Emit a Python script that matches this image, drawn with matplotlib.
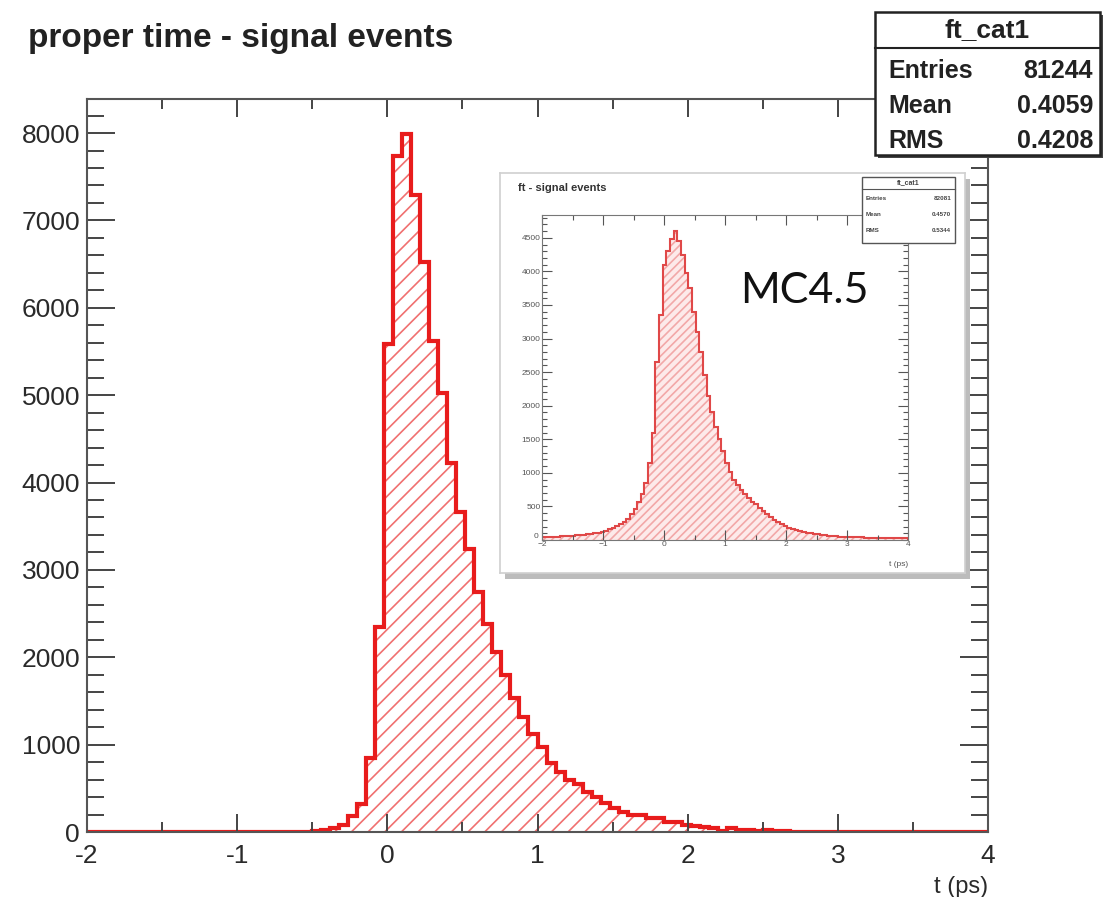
import numpy as np
import matplotlib
matplotlib.use("Agg")
import matplotlib.pyplot as plt
from matplotlib.patches import Rectangle
from matplotlib.ticker import MultipleLocator

plt.rcParams['font.family'] = ['Liberation Sans', 'DejaVu Sans']
plt.rcParams['hatch.linewidth'] = 1.2

# main histogram: proper time, 100 bins from -2 to 4 ps
t_lo, t_hi, n_bins = -2.0, 4.0, 100
counts = [0] * 24 + [
    5, 12, 25, 45, 85, 180, 320, 846, 2346, 5590,
    7740, 7990, 7290, 6530, 5620, 5020, 4220, 3660, 3240, 2746,
    2386, 2060, 1800, 1530, 1318, 1120, 975, 795, 689, 594,
    550, 455, 400, 331, 280, 225, 194, 190, 160, 155,
    118, 110, 75, 70, 60, 50, 10, 45, 25, 20,
    15, 20, 10, 12, 5, 3] + [0] * 20

# inset histogram (MC4.5)
counts_mc = [40, 45, 45, 50, 50, 55, 60, 60, 65, 70,
             75, 80, 85, 90, 100, 110, 125,
             140, 160, 180, 205, 235, 270, 320, 380, 460, 560, 680, 850, 1150,
             1600, 2650, 3350, 4100, 4300, 4480, 4600, 4450, 4250, 3980,
             3760, 3400, 3100, 2800, 2450, 2150, 1900, 1680, 1500, 1320,
             1150, 1020, 900, 820, 740, 690, 630, 570, 530, 480,
             430, 380, 340, 300, 275, 240, 210, 185, 165, 150,
             135, 120, 110, 100, 90, 85, 75, 70, 65, 60,
             55, 52, 50, 48, 45, 42, 40, 38, 36, 35,
             34, 33, 32, 31, 30, 30, 29, 28, 28, 27]

stats_main = [("Entries", "81244"), ("Mean", "0.4059"), ("RMS", "0.4208")]
stats_mc = [("Entries", "82081"), ("Mean", "0.4570"), ("RMS", "0.5344")]

edges = np.linspace(t_lo, t_hi, n_bins + 1)

W, H = 1104, 897
def fx(x):
    return x / W
def fy(y):
    return 1 - y / H

fig = plt.figure(figsize=(W / 100, H / 100), dpi=100)

# ---- main plot ----
ax = fig.add_axes([fx(87), fy(832), (988 - 87) / W, (832 - 99) / H])
ax.stairs(counts, edges, fill=True, facecolor='none', edgecolor='#f07070',
          hatch='//', linewidth=0)
ax.stairs(counts, edges, color='#e81c1c', linewidth=3.0)
ax.set_xlim(t_lo, t_hi)
ax.set_ylim(0, 8390)
ax.xaxis.set_major_locator(MultipleLocator(1))
ax.xaxis.set_minor_locator(MultipleLocator(0.5))
ax.yaxis.set_major_locator(MultipleLocator(1000))
ax.yaxis.set_minor_locator(MultipleLocator(200))
ax.tick_params(which='both', direction='in', top=True, right=True,
               color='#444444', width=1.4, labelsize=19, labelcolor='#2a2a2a')
ax.tick_params(axis='x', which='major', length=13)
ax.tick_params(axis='x', which='minor', length=7)
ax.tick_params(axis='y', which='major', length=20, pad=5)
ax.tick_params(axis='y', which='minor', length=12)
ax.tick_params(axis='x', labelbottom=False)
for s in ax.spines.values():
    s.set_color('#555555')
    s.set_linewidth(1.5)
for v in range(-2, 5):
    ax.text(v, -0.017, str(v), transform=ax.get_xaxis_transform(),
            ha='center', va='top', fontsize=19, color='#2a2a2a')
ax.text(1.0, -0.06, "t (ps)", transform=ax.transAxes, ha='right', va='top',
        fontsize=17, color='#2a2a2a')

fig.text(fx(28), fy(38), "proper time - signal events", fontsize=24,
         fontweight='bold', color='#222222', va='center', ha='left')

# main stats box
bx0, bx1, by0, by1, bsep = 875, 1100, 12, 155, 48
fig.patches.append(Rectangle((fx(bx0 + 3), fy(by1 + 3)), (bx1 - bx0) / W, (by1 - by0) / H,
                             transform=fig.transFigure, facecolor='#444444',
                             edgecolor='none', zorder=10))
fig.patches.append(Rectangle((fx(bx0), fy(by1)), (bx1 - bx0) / W, (by1 - by0) / H,
                             transform=fig.transFigure, facecolor='white',
                             edgecolor='#222222', linewidth=1.8, zorder=11))
fig.lines.append(plt.Line2D([fx(bx0), fx(bx1)], [fy(bsep), fy(bsep)],
                            transform=fig.transFigure, color='#222222',
                            linewidth=1.5, zorder=12))
fig.text(fx((bx0 + bx1) / 2), fy(30), "ft_cat1", fontsize=19, fontweight='bold',
         ha='center', va='center', color='#222222', zorder=13)
for i, (lab, val) in enumerate(stats_main):
    yy = fy(71 + i * 35)
    fig.text(fx(888), yy, lab, fontsize=18, fontweight='bold', ha='left',
             va='center', color='#222222', zorder=13)
    fig.text(fx(1093), yy, val, fontsize=18, fontweight='bold', ha='right',
             va='center', color='#222222', zorder=13)

# ---- inset panel (pasted canvas) ----
px0, px1, py0, py1 = 500, 965, 173, 573
shadow = fig.add_axes([fx(px0 + 5), fy(py1 + 6), (px1 - px0) / W, (py1 - py0) / H])
shadow.set_axis_off()
shadow.add_patch(Rectangle((0, 0), 1, 1, transform=shadow.transAxes,
                           facecolor='#bcbcbc', edgecolor='none'))
shadow.set_zorder(3)
panel = fig.add_axes([fx(px0), fy(py1), (px1 - px0) / W, (py1 - py0) / H])
panel.set_xticks([])
panel.set_yticks([])
for s in panel.spines.values():
    s.set_color('#d0d0d0')
    s.set_linewidth(1.2)
panel.set_zorder(4)

ax2 = fig.add_axes([fx(542), fy(540), (908 - 542) / W, (540 - 215) / H])
ax2.set_zorder(5)
ax2.stairs(counts_mc, edges, fill=True, facecolor='#fdeaea', edgecolor='#f2a8a8',
           hatch='////', linewidth=0)
ax2.stairs(counts_mc, edges, color='#e04848', linewidth=1.5)
ax2.set_xlim(t_lo, t_hi)
ax2.set_ylim(0, 4840)
ax2.xaxis.set_major_locator(MultipleLocator(1))
ax2.xaxis.set_minor_locator(MultipleLocator(0.5))
ax2.yaxis.set_major_locator(MultipleLocator(500))
ax2.yaxis.set_minor_locator(MultipleLocator(100))
ax2.tick_params(which='both', direction='in', top=True, right=True,
                color='#555555', width=0.8, labelsize=6, labelcolor='#555555')
ax2.tick_params(which='major', length=7, pad=1)
ax2.tick_params(which='minor', length=3.5)
ax2.set_yticks(range(500, 5000, 500))
for s in ax2.spines.values():
    s.set_color('#777777')
    s.set_linewidth(0.8)
ax2.text(-0.01, 0.0, "0", transform=ax2.transAxes, ha='right', va='bottom',
         fontsize=6, color='#555555')
ax2.text(1.0, -0.065, "t (ps)", transform=ax2.transAxes, ha='right', va='top',
         fontsize=6, color='#555555')
ax2.text(0.54, 0.73, "MC4.5", transform=ax2.transAxes, fontsize=31,
         family=['Lato', 'DejaVu Sans'], color='#111111', ha='left', va='baseline')
fig.text(fx(518), fy(188), "ft - signal events", fontsize=8, fontweight='bold',
         color='#333333', va='center', ha='left', zorder=6)

# inset stats box
sx0, sx1, sy0, sy1, ssep = 862, 955, 177, 243, 189
fig.patches.append(Rectangle((fx(sx0), fy(sy1)), (sx1 - sx0) / W, (sy1 - sy0) / H,
                             transform=fig.transFigure, facecolor='white',
                             edgecolor='#555555', linewidth=1.0, zorder=7))
fig.lines.append(plt.Line2D([fx(sx0), fx(sx1)], [fy(ssep), fy(ssep)],
                            transform=fig.transFigure, color='#555555',
                            linewidth=0.8, zorder=8))
fig.text(fx((sx0 + sx1) / 2), fy(183), "ft_cat1", fontsize=5, fontweight='bold',
         ha='center', va='center', color='#444444', zorder=9)
for i, (lab, val) in enumerate(stats_mc):
    yy = fy(198 + i * 16)
    fig.text(fx(866), yy, lab, fontsize=4.5, fontweight='bold', ha='left',
             va='center', color='#444444', zorder=9)
    fig.text(fx(951), yy, val, fontsize=4.5, fontweight='bold', ha='right',
             va='center', color='#444444', zorder=9)

fig.savefig("out.png", dpi=100)
